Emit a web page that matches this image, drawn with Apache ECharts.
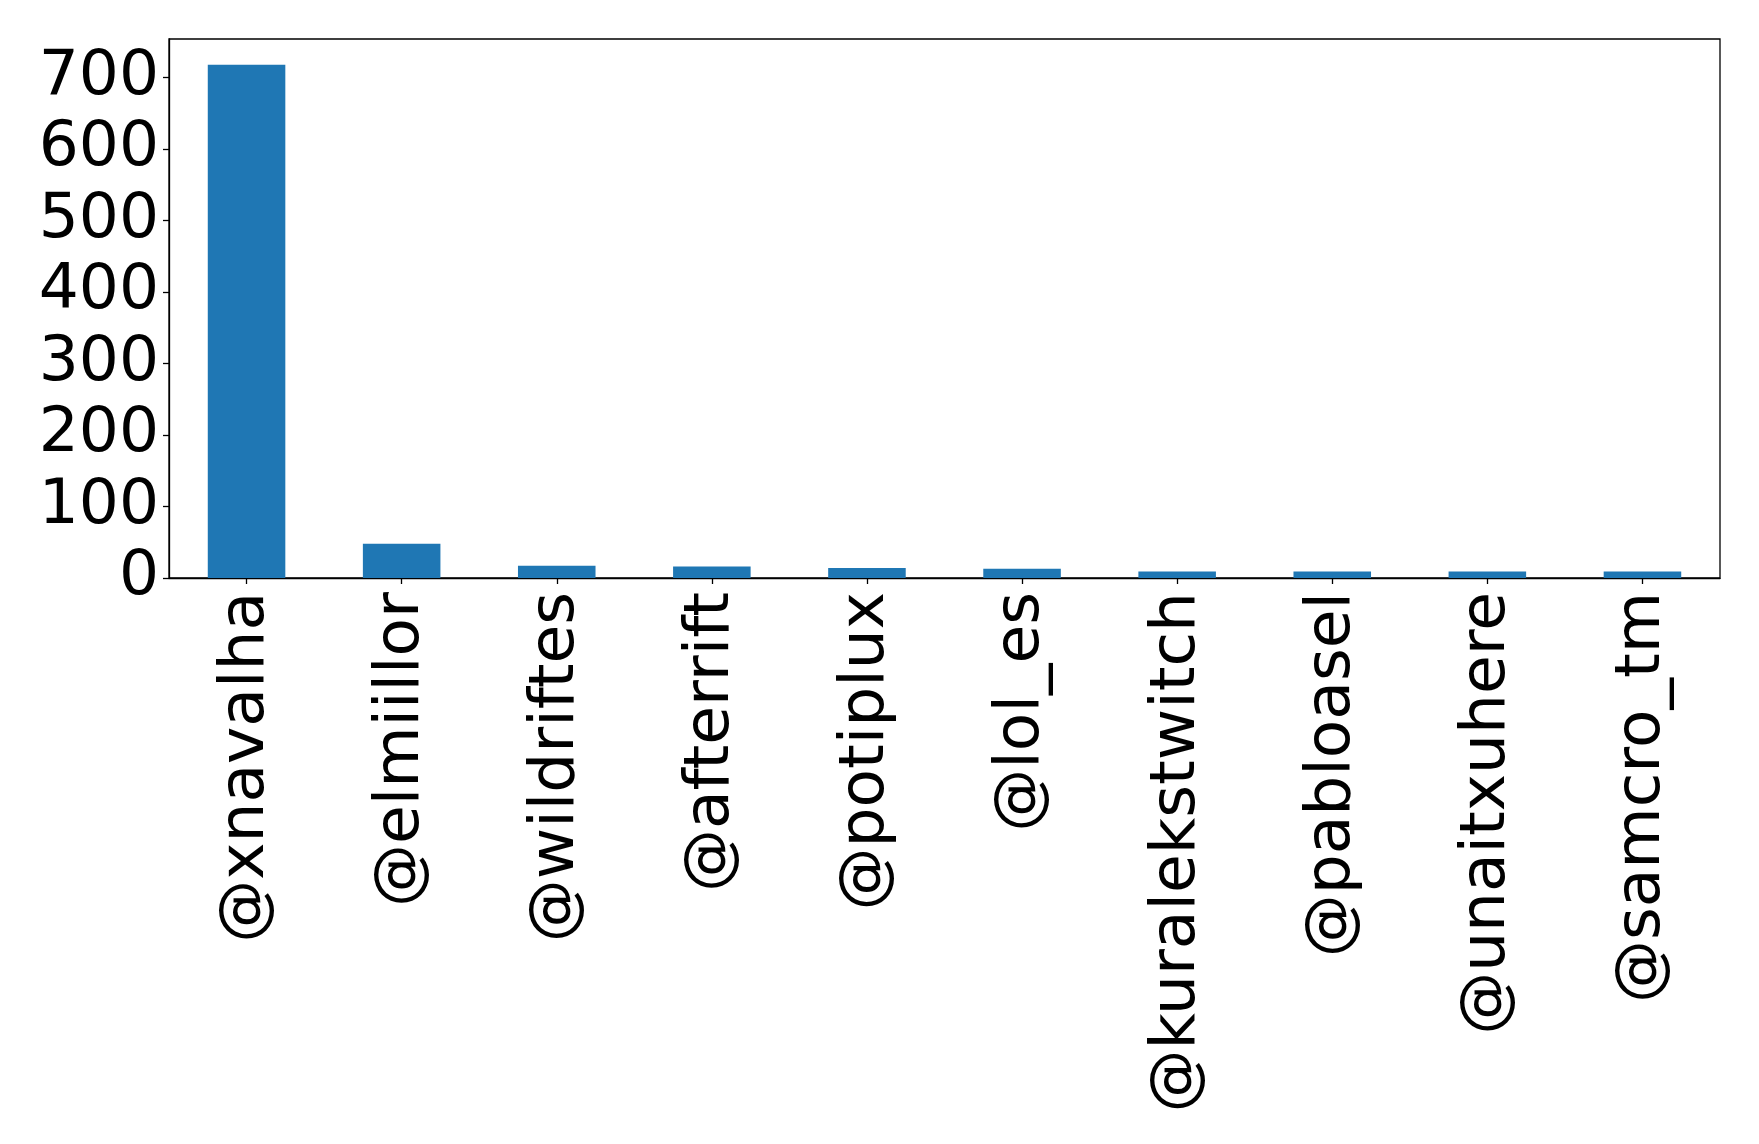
<!DOCTYPE html>
<html>
<head>
<meta charset="utf-8">
<script src="https://cdn.jsdelivr.net/npm/echarts@6/dist/echarts.min.js"></script>
<style>
  html, body { margin: 0; padding: 0; background: #fff; }
  #chart { width: 1759px; height: 1144px; }
</style>
</head>
<body>
<div id="chart"></div>
<script>
const users = ['@xnavalha', '@elmiillor', '@wildriftes', '@afterrift', '@potiplux',
  '@lol_es', '@kuralekstwitch', '@pabloasel', '@unaitxuhere', '@samcro_tm']
const counts = [718, 48, 17, 16, 14, 13, 9, 9, 9, 9]
const yTicks = [0, 100, 200, 300, 400, 500, 600, 700]

const font = 'DejaVu Sans'
const chart = echarts.init(document.getElementById('chart'))

chart.setOption({
  animation: false,
  backgroundColor: '#fff',
  grid: {
    left: 169, top: 39, right: 39, bottom: 566,
    show: true, borderColor: '#000', borderWidth: 1.3, backgroundColor: 'transparent'
  },
  xAxis: {
    type: 'category',
    data: users,
    axisLine: { show: true, lineStyle: { color: '#000', width: 1.3 } },
    axisTick: { show: true, alignWithLabel: true, length: 6, lineStyle: { color: '#000', width: 1.3 } },
    axisLabel: { rotate: 90, margin: 14, color: '#000', fontSize: 63, fontFamily: font }
  },
  yAxis: {
    type: 'value',
    min: 0,
    max: 754,
    interval: 100,
    splitLine: { show: false },
    axisLine: { show: true, lineStyle: { color: '#000', width: 1.3 } },
    axisTick: { show: true, length: 6, lineStyle: { color: '#000', width: 1.3 } },
    axisLabel: {
      margin: 10, color: '#000', fontSize: 63, fontFamily: font,
      showMaxLabel: false,
      formatter: v => (yTicks.includes(v) ? String(v) : '')
    }
  },
  series: [{
    type: 'bar',
    data: counts,
    barWidth: '50%',
    itemStyle: { color: '#1f77b4' }
  }]
})
</script>
</body>
</html>
